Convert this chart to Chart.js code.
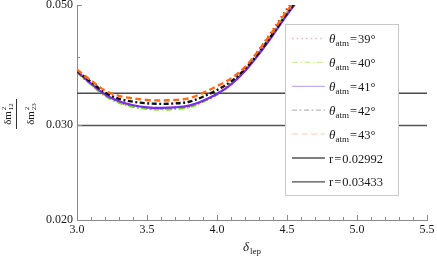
<!DOCTYPE html>
<html>
<head>
<meta charset="utf-8" />
<title>delta lep ratio</title>
<script src="https://cdn.jsdelivr.net/npm/chart.js@4.4.0/dist/chart.umd.min.js"></script>
<style>
  html, body { margin: 0; padding: 0; background: #fff; }
  canvas { display: block; }
</style>
</head>
<body>
<canvas id="myChart" width="437" height="265"></canvas>
<script>
// values
const deltaLep = [3.0, 3.1, 3.2, 3.3, 3.4, 3.5, 3.6, 3.7, 3.8, 3.9, 4.0, 4.1, 4.2, 4.3, 4.4, 4.5, 4.6];
const theta39 = [0.03763, 0.03573, 0.03407, 0.03310, 0.03255, 0.03226, 0.03219, 0.03225, 0.03249, 0.03318, 0.03422, 0.03578, 0.03806, 0.04127, 0.04494, 0.04915, 0.05329];
const theta40 = [0.03755, 0.03566, 0.03399, 0.03299, 0.03241, 0.03212, 0.03205, 0.03211, 0.03235, 0.03311, 0.03415, 0.03563, 0.03782, 0.04084, 0.04438, 0.04843, 0.05251];
const theta41 = [0.03763, 0.03578, 0.03414, 0.03317, 0.03262, 0.03233, 0.03226, 0.03232, 0.03256, 0.03325, 0.03422, 0.03563, 0.03774, 0.04058, 0.04400, 0.04792, 0.05196];
const theta42 = [0.03779, 0.03601, 0.03443, 0.03352, 0.03311, 0.03288, 0.03281, 0.03287, 0.03311, 0.03382, 0.03480, 0.03609, 0.03806, 0.04084, 0.04428, 0.04823, 0.05229];
const theta43 = [0.03795, 0.03624, 0.03472, 0.03395, 0.03359, 0.03336, 0.03329, 0.03335, 0.03360, 0.03438, 0.03539, 0.03654, 0.03838, 0.04127, 0.04475, 0.04874, 0.05285];
const thetaNames = ['39°', '40°', '41°', '42°', '43°'];

const rX = [3.0, 5.5];
const rValues = [0.02992, 0.03433];
const rNames = ['r = 0.02992', 'r = 0.03433'];

const xTicks = [3.0, 3.5, 4.0, 4.5, 5.0, 5.5];
const xTickLabels = ['3.0', '3.5', '4.0', '4.5', '5.0', '5.5'];
const yTicks = [0.02, 0.03, 0.04, 0.05];
const yTickLabels = ['0.020', '0.030', '', '0.050'];

const serif = '"Liberation Serif", "DejaVu Serif", serif';

// curve styles, plus the paler colours used in the legend swatches
const curveStyles = [
  { color: '#f02828', pale: '#ffb0b0', dash: [1.5, 3.2], width: 2.6 },
  { color: '#70e010', pale: '#c8f4a0', dash: [6, 2.5, 1.5, 2.5], width: 2.4 },
  { color: '#7a2cf0', pale: '#c4acf8', dash: [], width: 2.2 },
  { color: '#111111', pale: '#b8b8b8', dash: [5, 2.5, 2, 2.5], width: 2.4 },
  { color: '#ff6a14', pale: '#ffd6bc', dash: [6, 3.5], width: 2.4 }
];
const rColors = ['#555555', '#4a4a4a'];

const thetaSeries = [theta39, theta40, theta41, theta42, theta43];

function pairs(xs, ys) {
  return xs.map((x, i) => ({ x: x, y: ys[i] }));
}

let datasets = [];
rValues.forEach((r, i) => {
  datasets.push({
    label: rNames[i],
    data: pairs(rX, [r, r]),
    borderColor: rColors[i],
    borderWidth: 1.4,
    pointRadius: 0,
    order: 10
  });
});
thetaSeries.forEach((ys, i) => {
  const st = curveStyles[i];
  datasets.push({
    label: thetaNames[i],
    data: pairs(deltaLep, ys),
    borderColor: st.color,
    borderWidth: st.width,
    borderDash: st.dash,
    pointRadius: 0,
    cubicInterpolationMode: 'monotone',
    order: 5 - i
  });
});

//ticks inside the frame, custom legend and the axis titles
const framePlugin = {
  id: 'frame',
  afterDatasetsDraw(chart) {
    const ctx = chart.ctx;
    const xs = chart.scales.x, ys = chart.scales.y;
    const area = chart.chartArea;
    ctx.save();
    ctx.strokeStyle = '#8a8a8a';
    ctx.lineWidth = 1;
    // y ticks
    yTicks.forEach((v, i) => {
      const py = Math.round(ys.getPixelForValue(v)) + 0.5;
      const len = yTickLabels[i] === '' ? 3 : 5;
      ctx.beginPath();
      ctx.moveTo(area.left, py);
      ctx.lineTo(area.left + len, py);
      ctx.stroke();
    });
    // x ticks, minor every 0.1
    for (let k = 0; k <= 25; k++) {
      const v = 3.0 + k * 0.1;
      const px = Math.round(xs.getPixelForValue(v)) + 0.5;
      const len = (k % 5 === 0) ? 5 : 3;
      ctx.beginPath();
      ctx.moveTo(px, area.bottom);
      ctx.lineTo(px, area.bottom - len);
      ctx.stroke();
    }

    // legend box
    const lx = 285, ly = 24, lw = 113, lh = 171;
    ctx.fillStyle = '#ffffff';
    ctx.fillRect(lx, ly, lw, lh);
    ctx.strokeStyle = '#c8c8c8';
    ctx.strokeRect(lx + 0.5, ly + 0.5, lw, lh);

    const rowY = (i) => ly + 14.5 + i * 23.9;
    ctx.textBaseline = 'alphabetic';
    thetaNames.forEach((name, i) => {
      const st = curveStyles[i];
      const cy = rowY(i);
      ctx.strokeStyle = st.pale;
      ctx.lineWidth = 1.3;
      ctx.setLineDash(st.dash);
      ctx.beginPath();
      ctx.moveTo(292, cy);
      ctx.lineTo(325, cy);
      ctx.stroke();
      ctx.setLineDash([]);
      ctx.fillStyle = '#1a1a1a';
      let tx = 329;
      ctx.font = 'italic 13px ' + serif;
      ctx.fillText('θ', tx, cy + 4.5);
      tx += ctx.measureText('θ').width;
      ctx.font = '9px ' + serif;
      ctx.fillText('atm', tx, cy + 7.5);
      tx += ctx.measureText('atm').width + 1;
      ctx.font = '12.5px ' + serif;
      ctx.fillText('=\u200A' + name, tx, cy + 4.5);
    });
    rNames.forEach((name, i) => {
      const cy = rowY(5 + i);
      ctx.strokeStyle = rColors[i];
      ctx.lineWidth = 1.3;
      ctx.beginPath();
      ctx.moveTo(292, cy);
      ctx.lineTo(325, cy);
      ctx.stroke();
      ctx.fillStyle = '#1a1a1a';
      ctx.font = '12.5px ' + serif;
      ctx.fillText(name.replace(' = ', '\u200A=\u200A'), 329, cy + 4.5);
    });

    // x title: delta_lep
    ctx.fillStyle = '#1a1a1a';
    ctx.font = 'italic 13px ' + serif;
    const dW = ctx.measureText('δ').width;
    ctx.font = '9px ' + serif;
    const sW = ctx.measureText('lep').width;
    let tx = 252 - (dW + sW + 1) / 2;
    ctx.font = 'italic 13px ' + serif;
    ctx.fillText('δ', tx, 251);
    ctx.font = '9px ' + serif;
    ctx.fillText('lep', tx + dW + 1, 254);

    // y title: fraction, rotated
    ctx.translate(16, 114);
    ctx.rotate(-Math.PI / 2);
    ctx.strokeStyle = '#333';
    ctx.lineWidth = 1;
    ctx.beginPath();
    ctx.moveTo(-15, 0.5);
    ctx.lineTo(15, 0.5);
    ctx.stroke();
    function dm(sub, base) {
      ctx.font = '11px ' + serif;
      const w1 = ctx.measureText('δm').width;
      ctx.font = '7px ' + serif;
      const w2 = ctx.measureText(sub).width;
      let u = -(w1 + w2 + 1) / 2;
      ctx.font = '11px ' + serif;
      ctx.fillText('δm', u, base);
      ctx.font = '7px ' + serif;
      ctx.fillText('2', u + w1 + 1, base - 5);
      ctx.fillText(sub, u + w1 + 1, base + 2);
    }
    dm('12', -5);
    dm('23', 18);
    ctx.restore();
  }
};

const chart = new Chart(document.getElementById('myChart').getContext('2d'), {
  type: 'line',
  data: { datasets: datasets },
  options: {
    responsive: false,
    animation: false,
    devicePixelRatio: 1,
    layout: { padding: { left: 0, top: 5, right: 10, bottom: 0 } },
    plugins: { legend: { display: false }, tooltip: { enabled: false } },
    scales: {
      x: {
        type: 'linear',
        min: 3.0,
        max: 5.5,
        grid: { display: false, drawTicks: false },
        border: { display: true, color: '#8a8a8a', width: 1 },
        afterBuildTicks: (s) => { s.ticks = xTicks.map(v => ({ value: v })); },
        afterFit: (s) => { s.height = 45; s.paddingLeft = 0; s.paddingRight = 0; },
        ticks: {
          autoSkip: false,
          maxRotation: 0,
          padding: 3,
          color: '#1a1a1a',
          font: { family: serif, size: 12 },
          callback: (v, i) => xTickLabels[i]
        }
      },
      y: {
        type: 'logarithmic',
        min: 0.02,
        max: 0.05,
        grid: { display: false, drawTicks: false },
        border: { display: true, color: '#8a8a8a', width: 1 },
        afterBuildTicks: (s) => { s.ticks = yTicks.map(v => ({ value: v })); },
        afterFit: (s) => { s.width = 77; s.paddingTop = 0; s.paddingBottom = 0; },
        ticks: {
          autoSkip: false,
          padding: 4,
          color: '#1a1a1a',
          font: { family: serif, size: 12 },
          callback: (v, i) => yTickLabels[i]
        }
      }
    }
  },
  plugins: [framePlugin]
});
</script>
</body>
</html>
